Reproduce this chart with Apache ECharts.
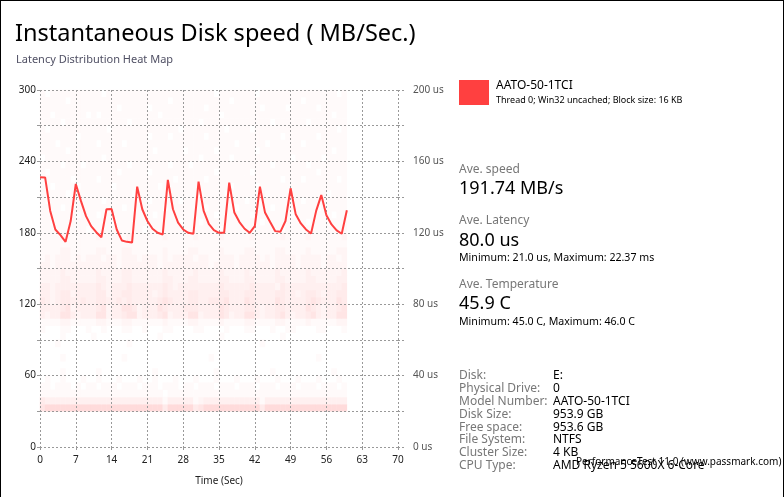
<!DOCTYPE html>
<html>
<head>
<meta charset="utf-8">
<script src="https://cdn.jsdelivr.net/npm/echarts@6/dist/echarts.min.js"></script>
<style>
html,body{margin:0;padding:0;background:#fff;}
#c{width:784px;height:497px;}
</style>
</head>
<body>
<div id="c"></div>
<script>
// ---- data ----
var timeSec = [0,1,2,3,4,5,6,7,8,9,10,11,12,13,14,15,16,17,18,19,20,21,22,23,24,25,26,27,28,29,30,31,32,33,34,35,36,37,38,39,40,41,42,43,44,45,46,47,48,49,50,51,52,53,54,55,56,57,58,59,60];
var speedMBs = [226.7,226.5,198.4,182.8,178.0,172.4,189.9,221.0,206.8,194.0,185.6,180.5,176.3,199.8,200.0,182.8,173.6,172.4,171.8,218.8,199.8,189.9,183.4,180.0,178.6,224.4,199.8,188.5,182.8,180.0,179.2,223.0,198.4,187.6,182.2,180.0,180.0,222.1,197.0,189.0,183.4,180.0,185.6,218.8,197.0,189.0,181.4,180.8,189.9,217.4,195.5,187.9,182.8,179.4,198.4,211.7,194.7,187.0,182.0,179.2,198.9];
var leftTicks = [0,60,120,180,240,300];
var rightTicks = [0,40,80,120,160,200];
var xTicks = [0,7,14,21,28,35,42,49,56,63,70];
// latency heat map: bins of 4 us (row index = bin), one digit per second (0..59), intensity 0-9
var heatRowBins = [5,6,7,8,9,10,11,12,13,14,15,16,17,18,19,20,21,22,23,24,25,26,27,28,29,30,31,32,33,34,35,36,37,38,39,40,41,42,43,44,45,46,47,48,49];
var heatRows = [
"5777777777 7777777777 7777477777 4577777777 7774777777 7777777777",
"4333333333 3333333333 3333133333 1233333333 3331333333 3333333333",
"1111111111 1111111111 1111011111 1111111111 1111111111 1111111111",
"1101110101 1011101110 1110111011 0111011101 1101110111 0111011101",
"0100100010 0100010001 0010001000 1000100010 0010001000 1000100010",
"0000100000 0100000000 0010000000 0000100000 0000010000 0000000100",
"0000000000 0000000000 0000000000 0000000000 0000000000 0000000000",
"0000100000 0000001000 0000000000 0001000000 0000000000 0000100000",
"0000000000 0000000000 0000000000 0000000000 0000000000 0000000000",
"0001000000 0000000100 0000000000 0000000000 0001000000 0000000000",
"0000100000 1000000000 0001000000 0000010000 0000000100 0000000000",
"1000110001 0010001100 1000110000 1100001000 1100010011 0000110001",
"1111221111 1221112211 1111211112 2111121111 2211112211 1121111122",
"3233553233 3552334552 3334523335 5233354233 5532334532 3345323355",
"3333452333 3452335542 3335433344 4333354333 4432334433 3354323345",
"4323443343 3443343433 3334543334 4334445333 5433335433 3345433354",
"3323442333 3442334433 3323433334 4333344333 4433334433 2344323344",
"3323333333 3432333433 3333432333 3333343333 3433332433 3333333334",
"2222332222 2332223322 2222332223 3222233222 3322223322 2233222233",
"2222322222 2322223322 2222322222 3222232222 3222223222 2232222223",
"2212222222 2222212222 2221222222 2221222212 2222212222 1222212222",
"1212221212 2212212221 2221212222 1221122212 2221212222 1222212212",
"1111221111 1221112211 1111211112 2111121111 2211112211 1121111122",
"1111111111 1111111111 1111111111 1111111111 1111111111 1111111111",
"1111211111 1211111211 1111211111 2111121111 1211111211 1121111112",
"1111111110 1111111111 0111111111 1111101111 1111111011 1111111111",
"1101111111 1111011111 1111111011 1011111111 1110111111 1101111111",
"1111111011 1011111111 1101111111 1111011111 1011111110 1111111011",
"1111011111 1111110111 1111011111 1101111101 1111101111 1111011111",
"1011111111 1101111111 1011111011 1111111111 0111111111 1011111111",
"1111101111 1111111101 1111111111 1011110111 1111011111 1111110111",
"1101111011 1111011111 1110111111 1111111011 1101111111 1111111111",
"1111110111 1011111111 1111110111 1101111111 1111111011 1011111101",
"1011111111 1111101111 1011111111 1111011111 1011111111 1111011111",
"1111011101 1111111011 1111101110 1111111111 1111101111 1101111111",
"0111111111 1101111111 1111111111 1011111011 1111111110 1111101111",
"1111101111 1111111111 1101111101 1111011111 1101111111 1111111011",
"1110111111 1011110111 1111111111 1111111101 1111011111 1011111111",
"1111111011 1111111111 1011101111 1101111111 1111111011 1111011111",
"1011111111 1110111111 1111111011 1111110111 1011111111 1111111101",
"1111011111 1111111011 1111111111 1011111111 1111101111 1101111111",
"1101111110 1011111111 1110111111 1111101111 1111111111 1111111011",
"1111111111 1111101111 1011111111 1101111111 1110111101 1111011111",
"1111101111 1111111111 1111101111 1111111011 1111111111 1011111111",
"1011111111 1101111111 1111111111 1111011111 1101111111 1111111101"
];
var diskInfoLabels = ["Disk:","Physical Drive:","Model Number:","Disk Size:","Free space:","File System:","Cluster Size:","CPU Type:"];
var diskInfoValues = ["E:","0","AATO-50-1TCI","953.9 GB","953.6 GB","NTFS","4 KB","AMD Ryzen 5 5600X 6-Core"];

// ---- build ----
var heatData = [];
heatRows.forEach(function (row, r) {
  var s = row.replace(/ /g, '');
  for (var c = 0; c < s.length; c++) {
    var v = +s[c];
    if (v > 0) heatData.push([c, heatRowBins[r], v]);
  }
});
var heatX = []; for (var i = 0; i < 60; i++) heatX.push(i);
var heatY = []; for (var j = 0; j < 50; j++) heatY.push(j);
var lineData = timeSec.map(function (t, i) { return [t, speedMBs[i]]; });

var FONT = '"Noto Sans", "Open Sans", sans-serif';
var gridL = 40, gridR = 386, gridT = 90, gridB = 50;
var plotW = 784 - gridL - gridR;

var chart = echarts.init(document.getElementById('c'), null, {renderer: 'canvas'});
function txt(x, y, s, size, color) {
  return {type: 'text', left: x, top: y, style: {text: s, font: size + 'px ' + FONT, fill: color}};
}
var graphics = [
  {type: 'line', shape: {x1: 0.5, y1: 0, x2: 0.5, y2: 497}, style: {stroke: '#000', lineWidth: 1}},
  {type: 'line', shape: {x1: 0, y1: 0.5, x2: 784, y2: 0.5}, style: {stroke: '#000', lineWidth: 1}},
  {type: 'line', shape: {x1: 783.5, y1: 0, x2: 783.5, y2: 497}, style: {stroke: '#000', lineWidth: 1}},
  txt(15, 22, 'Instantaneous Disk speed ( MB/Sec.)', 23.5, '#000'),
  txt(16, 54, 'Latency Distribution Heat Map', 11, '#505064'),
  {type: 'rect', shape: {x: 459, y: 80, width: 30, height: 25}, style: {fill: '#ff4040'}},
  txt(496, 80, 'AATO-50-1TCI', 12, '#000'),
  txt(496, 96, 'Thread 0; Win32 uncached; Block size: 16 KB', 9, '#000'),
  txt(459, 164, 'Ave. speed', 12, '#777'),
  txt(459, 180, '191.74 MB/s', 18, '#000'),
  txt(459, 215, 'Ave. Latency', 12, '#777'),
  txt(459, 232, '80.0 us', 18, '#000'),
  txt(459, 252, 'Minimum: 21.0 us, Maximum: 22.37 ms', 10.6, '#000'),
  txt(459, 279, 'Ave. Temperature', 12, '#777'),
  txt(459, 295, '45.9 C', 18, '#000'),
  txt(459, 316, 'Minimum: 45.0 C, Maximum: 46.0 C', 10.6, '#000')
];
diskInfoLabels.forEach(function (l, i) {
  graphics.push(txt(459, 370 + i * 12.8, l, 12, '#777'));
  graphics.push(txt(553, 370 + i * 12.8, diskInfoValues[i], 12, '#000'));
});
graphics.push(txt(576, 457, 'PerformanceTest 11.0 (www.passmark.com)', 10, '#000'));

var option = {
  animation: false,
  backgroundColor: '#fff',
  textStyle: {fontFamily: FONT},
  graphic: graphics,
  grid: [
    {left: gridL, right: gridR, top: gridT, bottom: gridB},
    {left: gridL, width: plotW * 60 / 70, top: gridT, bottom: gridB}
  ],
  visualMap: {
    show: false, seriesIndex: 0, min: 0, max: 8, dimension: 2,
    inRange: {color: ['#ffffff', '#ffd6d6']}
  },
  xAxis: [
    {type: 'value', gridIndex: 0, min: 0, max: 70, interval: 7,
     name: 'Time (Sec)', nameLocation: 'middle', nameGap: 29,
     nameTextStyle: {fontSize: 10, color: '#222', fontFamily: FONT},
     axisLine: {show: false},
     axisTick: {show: true, length: 3, lineStyle: {color: '#999'}},
     axisLabel: {fontSize: 10, color: '#222', margin: 8, fontFamily: FONT,
       formatter: function (v) { return xTicks.indexOf(v) >= 0 ? String(v) : ''; }},
     splitLine: {show: true, lineStyle: {color: '#999', type: [2, 2]}}},
    {type: 'category', gridIndex: 1, data: heatX, show: false}
  ],
  yAxis: [
    {type: 'value', gridIndex: 0, min: 0, max: 300, interval: 30,
     axisLine: {show: false},
     axisTick: {show: true, length: 3, lineStyle: {color: '#999'}},
     axisLabel: {fontSize: 10, color: '#222', margin: 4, fontFamily: FONT,
       formatter: function (v) { return leftTicks.indexOf(v) >= 0 ? String(v) : ''; }},
     splitLine: {show: true, lineStyle: {color: '#999', type: [2, 2]}}},
    {type: 'value', gridIndex: 0, position: 'right', min: 0, max: 200, interval: 20,
     axisLine: {show: false},
     axisTick: {show: true, length: 7, lineStyle: {color: '#999', type: [2, 2]}},
     axisLabel: {fontSize: 10, color: '#555', margin: 15, fontFamily: FONT,
       formatter: function (v) { return rightTicks.indexOf(v) >= 0 ? v + ' us' : ''; }},
     splitLine: {show: false}},
    {type: 'category', gridIndex: 1, data: heatY, show: false}
  ],
  series: [
    {type: 'heatmap', xAxisIndex: 1, yAxisIndex: 2, data: heatData, z: -1,
     itemStyle: {borderWidth: 0}, emphasis: {disabled: true}},
    {type: 'line', xAxisIndex: 0, yAxisIndex: 0, data: lineData, symbol: 'none',
     lineStyle: {color: '#ff4040', width: 2}, itemStyle: {color: '#ff4040'}, z: 5}
  ]
};
chart.setOption(option);
</script>
</body>
</html>
